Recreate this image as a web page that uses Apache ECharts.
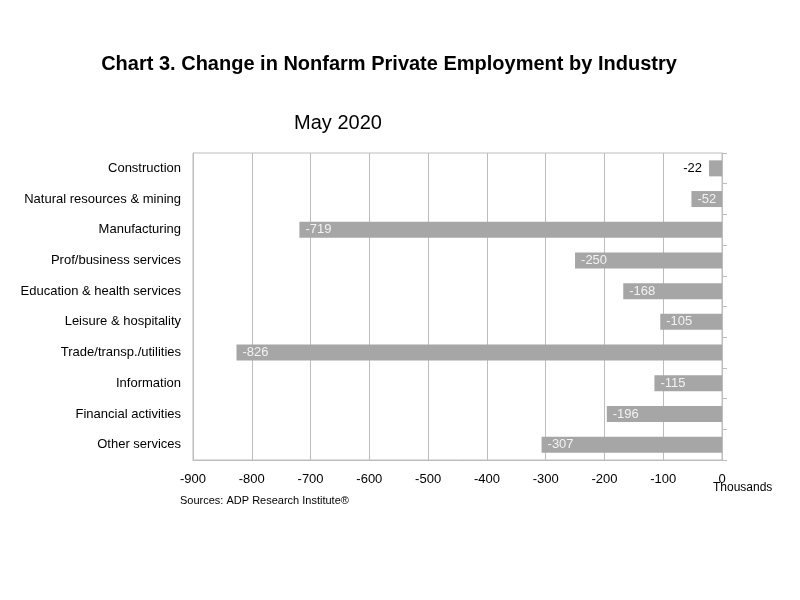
<!DOCTYPE html>
<html><head><meta charset="utf-8">
<script src="https://cdn.jsdelivr.net/npm/echarts@6/dist/echarts.min.js"></script>
<style>html,body{margin:0;padding:0;background:#fff}#c{width:800px;height:600px}</style>
</head><body><div id="c"></div>
<script>
const categories = ["Construction","Natural resources & mining","Manufacturing","Prof/business services","Education & health services","Leisure & hospitality","Trade/transp./utilities","Information","Financial activities","Other services"];
const values = [-22,-52,-719,-250,-168,-105,-826,-115,-196,-307];
const FONT = '"Liberation Sans", Arial, sans-serif';
const chart = echarts.init(document.getElementById('c'));
chart.setOption({
  animation:false,
  backgroundColor:'#fff',
  textStyle:{fontFamily:FONT},
  title:[
    {text:'Chart 3. Change in Nonfarm Private Employment by Industry', left:384, top:49, textAlign:'center',
     textStyle:{fontFamily:FONT,fontSize:20,fontWeight:'bold',color:'#000'}},
    {text:'May 2020', left:333, top:108, textAlign:'center',
     textStyle:{fontFamily:FONT,fontSize:20,fontWeight:'normal',color:'#000'}},
    {text:'Sources: ADP Research Institute®', left:175, top:490,
     textStyle:{fontFamily:FONT,fontSize:11,fontWeight:'normal',color:'#000'}},
    {text:'Thousands', left:708, top:477,
     textStyle:{fontFamily:FONT,fontSize:12,fontWeight:'normal',color:'#000'}}
  ],
  grid:{left:193,right:78,top:153,bottom:140,show:true,borderColor:'#bdbdbd',borderWidth:1},
  xAxis:{type:'value',min:-900,max:0,interval:100,
    axisLine:{show:true,onZero:false,lineStyle:{color:'#bdbdbd'}},
    axisTick:{show:false},
    splitLine:{show:true,lineStyle:{color:'#bdbdbd'}},
    axisLabel:{color:'#000',fontSize:13,fontFamily:FONT,margin:13}},
  yAxis:[
    {type:'category',data:categories,inverse:true,position:'left',
     axisLine:{show:true,onZero:false,lineStyle:{color:'#bdbdbd'}},
     axisTick:{show:false},
     axisLabel:{color:'#000',fontSize:13,fontFamily:FONT,margin:12}},
    {type:'category',data:categories,inverse:true,position:'right',
     axisLine:{show:true,onZero:false,lineStyle:{color:'#bdbdbd'}},
     axisTick:{show:true,length:5,inside:false,lineStyle:{color:'#bdbdbd'}},
     axisLabel:{show:false}}
  ],
  series:[{
    type:'bar',yAxisIndex:0,barWidth:16,
    itemStyle:{color:'#a6a6a6'},
    data:values.map(v=>({value:v,label: v>-30 ? {position:'left',distance:7,color:'#000'} : {}})),
    label:{show:true,position:'insideLeft',distance:6,color:'#f2f2f2',fontSize:13,fontFamily:FONT}
  }]
});
</script></body></html>
